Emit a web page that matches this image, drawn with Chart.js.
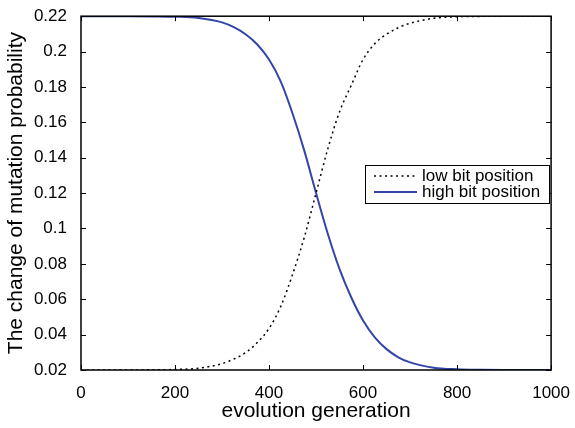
<!DOCTYPE html>
<html>
<head>
<meta charset="utf-8">
<script src="https://cdn.jsdelivr.net/npm/chart.js@4.4.1/dist/chart.umd.min.js"></script>
<style>
  html,body{margin:0;padding:0;background:#fff;}
  #wrap{width:575px;height:428px;}
</style>
</head>
<body>
<div id="wrap"><canvas id="chart" width="575" height="428"></canvas></div>
<script>
// values
const generations = [0,50,100,150,200,250,300,325,350,375,400,425,450,475,500,525,550,575,600,625,650,675,700,750,800,850,900,950,1000];
const lowBit  = [0.02,0.02,0.02,0.0201,0.0203,0.021,0.0236,0.0262,0.0298,0.0355,0.0435,0.056,0.074,0.095,0.120,0.145,0.166,0.181,0.1955,0.2045,0.2098,0.2135,0.216,0.2188,0.2197,0.2199,0.22,0.22,0.22];
const highBit = [0.22,0.22,0.22,0.2199,0.2197,0.219,0.2165,0.2138,0.2098,0.204,0.1955,0.183,0.165,0.144,0.120,0.097,0.077,0.061,0.048,0.0385,0.0318,0.0272,0.0243,0.0213,0.0204,0.0201,0.02,0.02,0.02];
const xTicks = [0,200,400,600,800,1000];
const yTicks = [0.02,0.04,0.06,0.08,0.1,0.12,0.14,0.16,0.18,0.2,0.22];

const FONT = 'Liberation Sans, Arial, sans-serif';
const BLUE = '#3346a8';

const pts = arr => generations.map((g,i) => ({x:g, y:arr[i]}));

// matlab style box + inward ticks + legend
const boxPlugin = {
  id:'box',
  afterDatasetsDraw(chart) {
    const {ctx, chartArea:a, scales:{x, y}} = chart;
    ctx.save();
    ctx.strokeStyle = '#000';
    ctx.lineWidth = 1;
    ctx.beginPath();
    xTicks.forEach(v => {
      const px = Math.round(x.getPixelForValue(v)) + 0.5;
      ctx.moveTo(px, a.bottom); ctx.lineTo(px, a.bottom - 5);
      ctx.moveTo(px, a.top);    ctx.lineTo(px, a.top + 5);
    });
    yTicks.forEach(v => {
      const py = Math.round(y.getPixelForValue(v)) + 0.5;
      ctx.moveTo(a.left, py);  ctx.lineTo(a.left + 5, py);
      ctx.moveTo(a.right, py); ctx.lineTo(a.right - 5, py);
    });
    ctx.stroke();
    ctx.lineWidth = 1.5;
    ctx.strokeRect(a.left, a.top, a.right - a.left, a.bottom - a.top);

    // legend
    const lx = 365, ly = 165, lw = 184, lh = 38;
    ctx.fillStyle = '#fff';
    ctx.fillRect(lx, ly, lw, lh);
    ctx.lineWidth = 1;
    ctx.strokeRect(lx + 0.5, ly + 0.5, lw, lh);
    ctx.font = '17px ' + FONT;
    ctx.textBaseline = 'middle';
    ctx.fillStyle = '#000';
    ctx.setLineDash([2, 3.5]);
    ctx.lineWidth = 1.5;
    ctx.beginPath(); ctx.moveTo(lx + 9, ly + 11); ctx.lineTo(lx + 50, ly + 11); ctx.stroke();
    ctx.setLineDash([]);
    ctx.strokeStyle = BLUE;
    ctx.lineWidth = 2;
    ctx.beginPath(); ctx.moveTo(lx + 9, ly + 27); ctx.lineTo(lx + 52, ly + 27); ctx.stroke();
    ctx.fillText('low bit position', lx + 57, ly + 11);
    ctx.fillText('high bit position', lx + 57, ly + 27);
    ctx.restore();
  }
};

new Chart(document.getElementById('chart').getContext('2d'), {
  type:'line',
  data:{
    datasets:[
      { label:'low bit position', data:pts(lowBit), borderColor:'#000', borderWidth:1.5,
        borderDash:[2,3.5], pointRadius:0, cubicInterpolationMode:'monotone', fill:false },
      { label:'high bit position', data:pts(highBit), borderColor:BLUE, borderWidth:2,
        pointRadius:0, cubicInterpolationMode:'monotone', fill:false }
    ]
  },
  options:{
    responsive:false, animation:false,
    layout:{padding:{top:11, right:20, left:0, bottom:0}},
    plugins:{legend:{display:false}, tooltip:{enabled:false}},
    scales:{
      x:{ type:'linear', min:0, max:1000,
        afterBuildTicks: s => { s.ticks = xTicks.map(v => ({value:v})); },
        afterFit: s => { s.height = 58; },
        grid:{display:false}, border:{display:false},
        ticks:{font:{family:FONT, size:17}, color:'#000', padding:5, maxRotation:0,
          callback: v => String(v)},
        title:{display:true, text:'evolution generation', font:{family:FONT, size:21}, color:'#000', padding:{top:0}}
      },
      y:{ type:'linear', min:0.02, max:0.22,
        afterBuildTicks: s => { s.ticks = yTicks.map(v => ({value:v})); },
        afterFit: s => { s.width = 81; },
        grid:{display:false}, border:{display:false},
        ticks:{font:{family:FONT, size:17}, color:'#000', padding:6,
          callback: v => String(+(+v).toFixed(2))},
        title:{display:true, text:'The change of mutation probability', font:{family:FONT, size:21}, color:'#000', padding:{bottom:2}}
      }
    }
  },
  plugins:[boxPlugin]
});
</script>
</body>
</html>
